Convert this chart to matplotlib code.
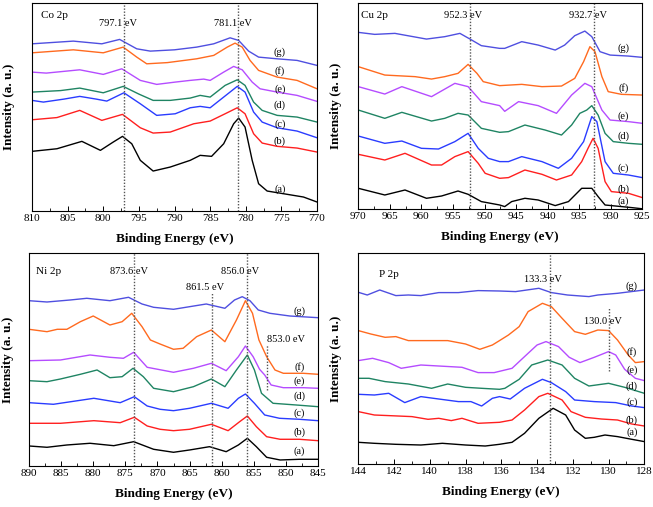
import numpy as np
import matplotlib
matplotlib.use('Agg')
import matplotlib.pyplot as plt

plt.rcParams['font.family'] = ['Liberation Serif', 'DejaVu Serif']

# ----------------------------------------------------------------------------
# DATA: (binding energy eV, intensity a.u.)
# ----------------------------------------------------------------------------
SAMPLE_LABELS = ['(a)', '(b)', '(c)', '(d)', '(e)', '(f)', '(g)']

# Co 2p
CO_A = [(810, 59.7), (806.5, 62.3), (803.0, 69.7), (800.4, 60.7), (798.6, 69), (797.3, 74.7), (796.0, 67.3),
        (794.8, 50.7), (793.0, 40), (790.6, 44), (787.8, 50.7), (786.4, 55.7), (784.8, 54.7), (783.1, 67.3),
        (781.7, 87.3), (781.0, 93), (780.1, 84), (779.1, 50.7), (778.2, 27.3), (777.0, 20), (774.7, 17.3),
        (771.9, 14), (770, 9)]
CO_B = [(810, 91.3), (806.5, 93.5), (803.3, 100.7), (800.2, 90.7), (797.3, 96.7), (794.8, 83.3), (793, 78),
        (790.6, 79), (787.3, 87.3), (785, 90), (782.9, 97.3), (781.2, 103.3), (780.1, 97.3), (778.9, 77.3),
        (777.7, 68), (775.6, 64.7), (772.8, 63), (770, 59)]
CO_C = [(810, 110.7), (808.4, 109), (805.5, 112), (803.3, 114.7), (801, 112), (799.5, 110), (797.1, 118.3),
        (794.8, 107.3), (792.5, 95.7), (789.9, 97.3), (787.8, 103.3), (786.4, 104.7), (785, 103.3),
        (783.1, 114), (781.2, 124.7), (780.1, 119), (778.9, 99), (777.7, 89), (775.6, 83.3), (772.8, 80),
        (770, 73.3)]
CO_D = [(810, 119), (806, 120.5), (803.3, 123), (800, 118.3), (797.2, 124.7), (795, 117), (793, 110.7),
        (790.6, 110.7), (787.8, 113), (786.4, 115.7), (785, 114), (782.9, 125.7), (781.2, 131.3),
        (780.1, 125.7), (778.9, 109), (777.7, 100.7), (775.6, 95.7), (772.8, 94), (770, 89)]
CO_E = [(810, 139), (808, 138), (803.3, 141.3), (800, 136.7), (797.4, 142.3), (794.8, 130.7), (792.5, 126.7),
        (789.9, 129), (787.8, 130.7), (785.9, 132), (785, 130.7), (783.1, 139), (781.7, 144.7), (780.5, 141.3),
        (779.1, 129), (778, 122.3), (775.6, 119), (772.8, 115.7), (770, 109.7)]
CO_F = [(810, 158.3), (804.2, 161.3), (800, 158.3), (797.2, 164), (795.3, 154), (793.9, 147.3), (791, 148.5),
        (786.9, 152.3), (784.5, 155.7), (782.6, 164), (781.5, 168), (780.5, 164), (779.4, 150.7),
        (778.2, 140.7), (775.6, 134), (772.8, 130.7), (770, 122.3)]
CO_G = [(810, 167.3), (804.2, 170), (800.2, 167.3), (797.7, 171.7), (795.3, 162.3), (793.4, 160), (790, 161.3),
        (786.9, 164), (784.5, 167.3), (782.2, 173.3), (781, 170.7), (779.6, 160), (778.2, 154), (775.6, 152.3),
        (772.8, 150.7), (770, 145.7)]

# Cu 2p
CU_A = [(970, 21), (965.8, 14.3), (962.6, 19.3), (959.2, 11), (956.8, 13.3), (954.2, 18.3), (952.6, 15),
        (950.5, 7.7), (947.6, 4.3), (946.8, 2.7), (945.7, 7.7), (943.6, 11), (941.5, 9.3), (938.8, 3.7),
        (936.7, 7.7), (934.6, 21), (933, 21), (932, 12.7), (930.9, 4.3), (928.3, 2.7), (926.7, 1.7), (925, 0.5)]
CU_B = [(970, 55), (965.8, 49.3), (962.6, 56), (958.4, 44.3), (956.8, 44.3), (954.7, 52.7), (952.6, 57.7),
        (951, 46), (949.9, 36), (947.6, 31), (946.2, 31.7), (943.6, 39.3), (940.9, 35), (938.6, 29.3),
        (936.2, 34.3), (934.6, 47.7), (933.6, 61), (932.8, 71), (932, 61), (930.9, 27.7), (929.9, 17.7),
        (927.2, 16), (925, 11.7)]
CU_C = [(970, 73.3), (965.8, 66), (963.1, 68.3), (960, 61), (957.3, 60.3), (954.7, 67.7), (952.6, 76), (951, 61),
        (949.4, 51), (947.6, 47.7), (946.2, 47.7), (944.1, 52.7), (940.9, 47.7), (938.3, 41), (936.2, 51),
        (934.3, 67.7), (933, 92.7), (932.2, 87.7), (930.9, 47.7), (929.6, 36), (927.2, 34.3), (925, 31.7)]
CU_D = [(970, 99.3), (965.8, 91), (963.1, 97), (958.4, 88.3), (956.3, 91), (954.2, 96), (952.6, 94.3),
        (950.5, 81), (947.6, 77), (946.2, 77.7), (943.6, 84.3), (940.4, 79.3), (937.8, 74.3), (936.2, 84.3),
        (934.9, 96), (933.8, 99.3), (933, 103.7), (932, 94.3), (930.9, 76), (929.6, 67.7), (927.2, 66), (925, 65)]
CU_E = [(970, 122.7), (965.8, 115.3), (963.1, 122.7), (958.4, 112.7), (954.7, 126), (952.6, 122.7),
        (950.5, 107.7), (947.6, 103.7), (946.8, 98), (944.6, 107.7), (941.5, 103.7), (938.6, 96),
        (936.2, 114.3), (934.1, 126), (933, 122.7), (931.4, 99.3), (930.1, 89.3), (927.2, 87.7), (925, 86)]
CU_F = [(970, 142.7), (965.8, 134.3), (961, 132.7), (958.4, 130.3), (956.3, 132.7), (954.2, 136), (952.6, 145),
        (951.2, 136), (950.2, 127.7), (947.6, 123.7), (944.1, 125), (940.9, 122.7), (937.8, 123.3),
        (935.7, 131), (934.3, 147.7), (933.3, 162.7), (932.5, 157.7), (931.4, 132.7), (930.4, 117.7),
        (928.3, 115), (925, 114.3)]
CU_G = [(970, 177), (967.4, 175), (964.2, 176), (959.2, 170.3), (956.3, 172.7), (953.9, 176), (952.3, 170.3),
        (950.5, 163.7), (947.6, 161), (946.8, 161), (944.1, 167.7), (941.5, 164.3), (938.8, 159.3),
        (937.3, 164.3), (935.7, 173.7), (934.1, 178.3), (933, 172.7), (931.7, 157.7), (930.1, 154.3),
        (927.2, 153.3), (925, 152)]

# Ni 2p
NI_A = [(890, 20), (887.2, 18.7), (884.1, 21), (880.5, 22.7), (876.8, 20.3), (873.7, 24.3), (870.6, 16.7),
        (867.5, 13.7), (865, 16), (861.9, 19.3), (859.3, 14.3), (857.4, 21), (856, 27.7), (854.6, 19.3),
        (853, 8.7), (850.9, 6), (847.9, 6.7), (845, 6.7)]
NI_B = [(890, 42.7), (885.1, 42.7), (879.9, 45.3), (875.8, 43.3), (873.6, 48.7), (871.6, 40), (869.6, 36.7),
        (867.5, 35.3), (865, 36.7), (861.6, 41.7), (859, 35.3), (857.2, 44.3), (856, 50), (854.6, 39.3),
        (853, 29.3), (850.9, 26.7), (847.9, 26.7), (845, 25.3)]
NI_C = [(890, 63.3), (886.2, 61.7), (879.9, 67.7), (875.8, 63.3), (873.6, 69.3), (871.6, 60), (869.6, 56.7),
        (867.5, 55.3), (865, 57.7), (861.6, 62.7), (859, 57.7), (857.4, 67.7), (856.3, 72), (854.9, 62.7),
        (853.3, 51), (851, 47.7), (847.9, 46.7), (845, 45.3)]
NI_D = [(890, 85.3), (887.2, 84.3), (885.1, 87), (882, 91.7), (879.4, 96), (877.4, 88.3), (875.5, 89.3),
        (873.8, 97.7), (872.2, 89.3), (870.6, 77.7), (867.5, 74.3), (864.4, 79.3), (861.6, 87), (859.5, 79.3),
        (857.7, 96), (856, 111), (854.9, 96), (853.8, 72.7), (852, 62.7), (848.4, 61), (845, 59.3)]
NI_E = [(890, 105.3), (885.1, 106), (880.5, 111), (877.4, 108.7), (875.3, 107.7), (873.7, 113.7), (871.6, 98.7),
        (867.5, 93.7), (864.4, 97.7), (861.6, 102.7), (859.3, 95.3), (857.4, 109.3), (856.3, 120), (855.1, 109.3),
        (854.1, 96.7), (853.3, 91), (852.3, 81), (850.4, 78.3), (847.3, 78.3), (845, 77.7)]
NI_F = [(890, 136.7), (887.2, 134.3), (885.6, 136.7), (884.1, 136.7), (882, 144.3), (880, 150), (877.4, 141),
        (875.5, 144.3), (874, 152.7), (872.4, 139.3), (871.1, 126), (869.6, 122), (867.5, 116.7), (866, 117.7),
        (863.9, 129.3), (861.6, 136), (859.5, 124.3), (857.7, 146), (856.3, 165.3), (855.2, 152.7),
        (854.2, 126), (853, 109.3), (851.7, 96), (850.4, 92.7), (847.3, 92.7), (845, 91.7)]
NI_G = [(890, 165.3), (887.2, 164), (883.6, 166), (881, 167.7), (877.4, 165.3), (874.5, 168.7), (872.4, 162),
        (870.6, 158.7), (867.5, 156.7), (865, 159.3), (862.4, 162), (859.5, 157.7), (858, 166), (856.8, 169.3),
        (855.6, 165.3), (854.3, 156), (852.5, 152.7), (849.4, 150), (845, 148.3)]

# P 2p
P_A = [(144, 22), (143.1, 21), (141.9, 20), (140.5, 19.3), (139.3, 21), (138, 19.3), (136.9, 18.3), (136.1, 20),
       (135.4, 22), (134.7, 31), (133.9, 46), (133.1, 56), (132.4, 49.3), (131.9, 34.3), (131.3, 26),
       (130.8, 27), (130.2, 29.3), (129.5, 27.7), (128.7, 25), (128, 22.7)]
P_B = [(144, 52.7), (143.1, 49.3), (142.3, 48.7), (141, 47.7), (140.1, 45), (139.5, 46), (138.8, 43.7),
       (138.2, 46), (137.3, 41), (136.1, 42), (135.4, 44.3), (134.7, 54.3), (133.9, 67.7), (133.4, 71),
       (132.6, 64.3), (132.1, 52.7), (131.3, 47), (130.4, 45.3), (129.5, 44.3), (128.7, 40.3), (128, 38.3)]
P_C = [(144, 70), (143.1, 69.3), (142.3, 71), (141.4, 61.7), (140.5, 67.7), (139.5, 65.3), (138.4, 62.7),
       (137.7, 62.7), (137.1, 58.3), (136.5, 66), (136.1, 67.7), (135.5, 65.3), (134.7, 76), (133.7, 85),
       (133.2, 81.7), (132.4, 72.7), (131.9, 64.3), (130.8, 62.7), (129.6, 61.7), (128.7, 58.3), (128, 56.7)]
P_D = [(144, 86), (143.4, 86), (142.5, 82.7), (141.2, 80.3), (139.9, 76), (139, 80.3), (138, 77), (137.1, 76),
       (136.1, 75), (135.8, 76), (135, 85), (134.3, 99.3), (133.4, 104.3), (132.6, 99.3), (131.9, 86),
       (131.1, 78.3), (130, 81), (129.1, 77), (128, 71)]
P_E = [(144, 103.7), (143.2, 106), (142.3, 101.7), (141.6, 96), (140.5, 99.3), (139.5, 98.3), (138.2, 97),
       (137.3, 91.7), (136.4, 91.7), (135.4, 96), (134.7, 107.7), (134, 119.3), (133.5, 122.7), (132.8, 117.7),
       (132.2, 107), (131.6, 101.7), (130.8, 107), (130, 112.7), (129.6, 109.3), (129.1, 95), (128.5, 86),
       (128, 83.7)]
P_F = [(144, 133.7), (143.3, 130.3), (142.5, 127), (141.9, 127.7), (141.2, 123.7), (140.1, 123.7), (139, 123.7),
       (138, 120.3), (137.2, 115), (136.5, 119.3), (136.1, 123.7), (135.6, 129.3), (135, 137.7), (134.5, 152.7),
       (133.7, 161), (133.2, 157.7), (132.6, 146), (131.9, 132.7), (131.3, 130), (130.6, 134.3), (130, 133.7),
       (129.5, 124.3), (128.9, 109.3), (128.5, 101.7), (128, 102.7)]
P_G = [(144, 172), (143.5, 169.3), (142.8, 174.3), (141.9, 168.7), (141.2, 169.3), (140.5, 168.7),
       (139.5, 171.7), (138.4, 171.7), (137.3, 173.7), (136.1, 173.3), (135.2, 172.7), (133.9, 176),
       (133.2, 171.7), (132.3, 169.3), (131.1, 167.7), (130.6, 169.3), (129.5, 171), (128, 174.3)]

# peak positions marked with dotted lines
CO_PEAKS = [797.1, 781.1]
CU_PEAKS = [952.3, 932.7]
NI_PEAKS = [873.6, 861.5, 856.0, 853.0]
P_PEAKS = [133.3, 130.0]

COLORS = ['#000000', '#ff1f1f', '#2a3cff', '#1f8463', '#b54cff', '#ff6a1f', '#4f4fe0']

# ----------------------------------------------------------------------------
# FIGURE
# ----------------------------------------------------------------------------
fig = plt.figure(figsize=(6.53, 5.07), dpi=100)

panels = [
    dict(name='Co 2p', curves=[CO_A, CO_B, CO_C, CO_D, CO_E, CO_F, CO_G], xlim=(810, 770), ytop=208,
         major=5, minor=2.5, rect=[0.049, 0.5838, 0.4365, 0.410], lab_x=775.2,
         lab_y=[21.7, 69.7, 87.3, 105.7, 122.3, 140, 159], ylx=-0.058),
    dict(name='Cu 2p', curves=[CU_A, CU_B, CU_C, CU_D, CU_E, CU_F, CU_G], xlim=(970, 925), ytop=206.7,
         major=5, minor=2.5, rect=[0.5487, 0.5872, 0.4349, 0.4075], lab_x=928.0,
         lab_y=[7.7, 20, 41, 72.7, 92.7, 121, 161], ylx=-0.057),
    dict(name='Ni 2p', curves=[NI_A, NI_B, NI_C, NI_D, NI_E, NI_F, NI_G], xlim=(890, 845), ytop=212.7,
         major=5, minor=2.5, rect=[0.0444, 0.0809, 0.4426, 0.4195], lab_x=847.9,
         lab_y=[14.3, 33.3, 52.7, 69.3, 84.3, 99.3, 154.3], ylx=-0.053),
    dict(name='P 2p', curves=[P_A, P_B, P_C, P_D, P_E, P_F, P_G], xlim=(144, 128), ytop=211,
         major=2, minor=1, rect=[0.5487, 0.0842, 0.438, 0.4162], lab_x=128.7,
         lab_y=[31.7, 43.7, 61.7, 77.7, 94.3, 112.7, 178.3], ylx=-0.057),
]

axes = []
for p in panels:
    ax = fig.add_axes(p['rect'])
    axes.append(ax)
    for curve, col in zip(p['curves'], COLORS):
        arr = np.array(curve)
        ax.plot(arr[:, 0], arr[:, 1], color=col, lw=1.0, solid_joinstyle='round')
    for lab, ly in zip(SAMPLE_LABELS, p['lab_y']):
        ax.text(p['lab_x'], ly, lab, fontsize=7.5, ha='center', va='center')
    ax.set_xlim(*p['xlim'])
    ax.set_ylim(0, p['ytop'])
    ax.set_xticks(np.arange(p['xlim'][1], p['xlim'][0] + 0.01, p['major']))
    ax.set_xticks(np.arange(p['xlim'][1], p['xlim'][0] + 0.01, p['minor']), minor=True)
    ax.set_yticks([])
    ax.tick_params(axis='x', which='major', direction='in', length=3.5, width=0.7, labelsize=8, pad=2)
    ax.tick_params(axis='x', which='minor', direction='in', length=2, width=0.6)
    for s in ax.spines.values():
        s.set_linewidth(0.8)
    ax.set_xlabel('Binding Energy (eV)', fontsize=9.5, fontweight='bold')
    ax.xaxis.set_label_coords(0.5, -0.105)
    ax.set_ylabel('Intensity (a. u.)', fontsize=9.5, fontweight='bold')
    ax.yaxis.set_label_coords(p['ylx'], 0.5)

ax_co, ax_cu, ax_ni, ax_p = axes
dot = dict(color='#555555', ls=(0, (1, 1.2)), lw=1.0)

# Co
for e in CO_PEAKS:
    ax_co.axvline(e, **dot)
ax_co.text(806.8, 195.7, 'Co 2p', fontsize=8, ha='center', va='center')
ax_co.text(797.9, 187.3, '797.1 eV', fontsize=7.5, ha='center', va='center')
ax_co.text(781.8, 188, '781.1 eV', fontsize=7.5, ha='center', va='center')

# Cu
for e in CU_PEAKS:
    ax_cu.axvline(e, **dot)
ax_cu.text(967.4, 194.3, 'Cu 2p', fontsize=8, ha='center', va='center')
ax_cu.text(953.4, 194.3, '952.3 eV', fontsize=7.5, ha='center', va='center')
ax_cu.text(933.6, 194.3, '932.7 eV', fontsize=7.5, ha='center', va='center')

# Ni
ax_ni.axvline(NI_PEAKS[0], **dot)
ax_ni.plot([NI_PEAKS[1]] * 2, [0, 172.7], **dot)
ax_ni.axvline(NI_PEAKS[2], **dot)
ax_ni.plot([NI_PEAKS[3]] * 2, [76, 121], **dot)
ax_ni.text(887.0, 194.3, 'Ni 2p', fontsize=8, ha='center', va='center')
ax_ni.text(874.4, 194.3, '873.6 eV', fontsize=7.5, ha='center', va='center')
ax_ni.text(857.2, 194.3, '856.0 eV', fontsize=7.5, ha='center', va='center')
ax_ni.text(862.6, 178.7, '861.5 eV', fontsize=7.5, ha='center', va='center')
ax_ni.text(850.0, 126.7, '853.0 eV', fontsize=7.5, ha='center', va='center')

# P
ax_p.axvline(P_PEAKS[0], **dot)
ax_p.plot([P_PEAKS[1]] * 2, [93.7, 157.7], **dot)
ax_p.text(142.3, 189.3, 'P 2p', fontsize=8, ha='center', va='center')
ax_p.text(133.65, 184.3, '133.3 eV', fontsize=7.5, ha='center', va='center')
ax_p.text(130.3, 143.3, '130.0 eV', fontsize=7.5, ha='center', va='center')

fig.savefig('out.png', dpi=100)
